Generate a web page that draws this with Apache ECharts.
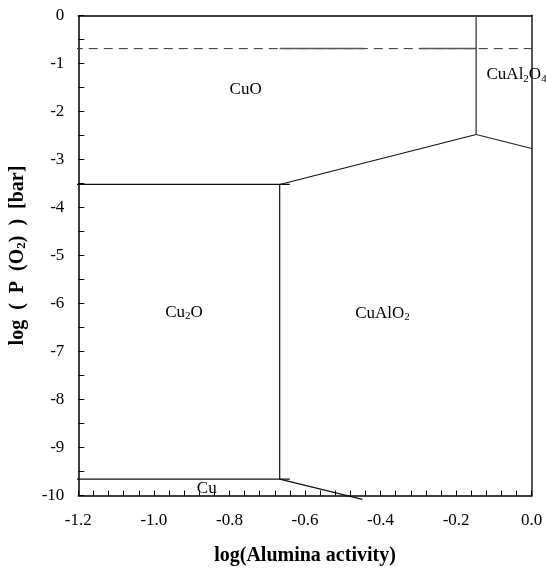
<!DOCTYPE html>
<html>
<head>
<meta charset="utf-8">
<script src="https://cdn.jsdelivr.net/npm/echarts@6/dist/echarts.min.js"></script>
<style>
  html, body { margin: 0; padding: 0; background: #fff; }
  #chart { width: 546px; height: 569px; }
</style>
</head>
<body>
<div id="chart"></div>
<script>
// Axis ranges (log alumina activity vs log oxygen partial pressure)
const xRange = [-1.2, 0];
const yRange = [-10, 0];

// Phase boundaries, each as a list of [log a(Al2O3), log P(O2)] points
const dashedLine = [[-1.212, -0.69], [0, -0.69]];
const dashedOverlayA = [[-0.667, -0.69], [-0.445, -0.69]];
const dashedOverlayB = [[-0.297, -0.69], [-0.147, -0.69]];
const cuoSpinelBoundary = [[-0.147, 0], [-0.147, -2.48]];
const spinelDelafossiteBoundary = [[-0.147, -2.48], [0, -2.77]];
const cuoDelafossiteBoundary = [[-0.147, -2.48], [-0.667, -3.52]];
const cuoCu2oBoundary = [[-1.215, -3.52], [-0.64, -3.52]];
const cu2oDelafossiteBoundary = [[-0.667, -3.52], [-0.667, -9.66]];
const cu2oCuBoundary = [[-1.22, -9.66], [-0.64, -9.66]];
const cuDelafossiteBoundary = [[-0.667, -9.66], [-0.448, -10.08]];

// Phase field labels and where they sit
const phaseNames = ['CuO', 'Cu{s|2}O', 'CuAlO{s|2}', 'CuAl{s|2}O{s|4}', 'Cu'];
const phaseX = [-0.757, -0.92, -0.395, -0.04, -0.86];
const phaseY = [-1.55, -6.18, -6.2, -1.24, -9.86];

const serif = '"Liberation Serif", "DejaVu Serif", serif';

function boundary(data, color, width, type) {
  return {
    type: 'line',
    data: data,
    symbol: 'none',
    clip: false,
    silent: true,
    animation: false,
    lineStyle: { color: color, width: width, type: type || 'solid' },
    z: 3
  };
}

const chart = echarts.init(document.getElementById('chart'), null, { renderer: 'canvas' });

const series = [
  boundary(dashedLine, '#333', 1, [9, 6]),
  boundary(dashedOverlayA, '#555', 1.5),
  boundary(dashedOverlayB, '#555', 1.5),
  boundary(cuoSpinelBoundary, '#555', 1.5),
  boundary(spinelDelafossiteBoundary, '#222', 1.2),
  boundary(cuoDelafossiteBoundary, '#111', 1.2),
  boundary(cuoCu2oBoundary, '#111', 1.2),
  boundary(cu2oDelafossiteBoundary, '#111', 1.2),
  boundary(cu2oCuBoundary, '#111', 1.2),
  boundary(cuDelafossiteBoundary, '#111', 1.2),
  {
    type: 'scatter',
    symbolSize: 0,
    silent: true,
    animation: false,
    itemStyle: { opacity: 1, color: 'rgba(0,0,0,0)' },
    data: phaseNames.map((n, i) => [phaseX[i], phaseY[i], n]),
    label: {
      show: true,
      position: 'inside',
      formatter: p => p.data[2],
      color: '#000',
      opacity: 1,
      fontFamily: serif,
      fontSize: 17,
      rich: {
        s: { fontFamily: serif, fontSize: 11, color: '#000', padding: [8, 0, 0, 0] }
      }
    },
    z: 5
  }
];

chart.setOption({
  backgroundColor: '#fff',
  animation: false,
  grid: { left: 78.3, right: 14.3, top: 15.5, bottom: 73.5, containLabel: false, outerBoundsMode: 'none' },
  xAxis: [
    {
      type: 'value',
      min: xRange[0], max: xRange[1], interval: 0.2,
      position: 'bottom',
      name: 'log(Alumina activity)',
      nameLocation: 'middle',
      nameGap: 50,
      nameTextStyle: { fontFamily: serif, fontSize: 20, fontWeight: 'bold', color: '#000' },
      axisLine: { show: true, onZero: false, lineStyle: { color: '#000', width: 1.5 } },
      axisTick: { show: true, inside: true, length: 5, lineStyle: { color: '#000', width: 1 } },
      minorTick: { show: true, splitNumber: 5, length: 5, lineStyle: { color: '#000', width: 1 } },
      axisLabel: {
        margin: 17, fontFamily: serif, fontSize: 17, color: '#000',
        formatter: v => Math.abs(v) < 1e-9 ? '0.0' : v.toFixed(1)
      },
      splitLine: { show: false }
    },
    {
      type: 'value',
      min: xRange[0], max: xRange[1],
      position: 'top',
      axisLine: { show: true, onZero: false, lineStyle: { color: '#000', width: 1.5 } },
      axisTick: { show: false },
      axisLabel: { show: false },
      splitLine: { show: false }
    }
  ],
  yAxis: [
    {
      type: 'value',
      min: yRange[0], max: yRange[1], interval: 1,
      position: 'left',
      name: 'log  (  P  (O{s|2})  )  [bar]',
      nameLocation: 'middle',
      nameRotate: 90,
      nameGap: 50,
      nameTextStyle: {
        fontFamily: serif, fontSize: 20, fontWeight: 'bold', color: '#000',
        rich: { s: { fontFamily: serif, fontSize: 13, fontWeight: 'bold', color: '#000', padding: [8, 0, 0, 0] } }
      },
      axisLine: { show: true, onZero: false, lineStyle: { color: '#000', width: 1.5 } },
      axisTick: { show: true, inside: true, length: 6, lineStyle: { color: '#000', width: 1 } },
      minorTick: { show: true, splitNumber: 2, length: 6, lineStyle: { color: '#000', width: 1 } },
      axisLabel: { margin: 14, fontFamily: serif, fontSize: 17, color: '#000' },
      splitLine: { show: false }
    },
    {
      type: 'value',
      min: yRange[0], max: yRange[1],
      position: 'right',
      axisLine: { show: true, onZero: false, lineStyle: { color: '#555', width: 2 } },
      axisTick: { show: false },
      axisLabel: { show: false },
      splitLine: { show: false }
    }
  ],
  series: series
});
</script>
</body>
</html>
